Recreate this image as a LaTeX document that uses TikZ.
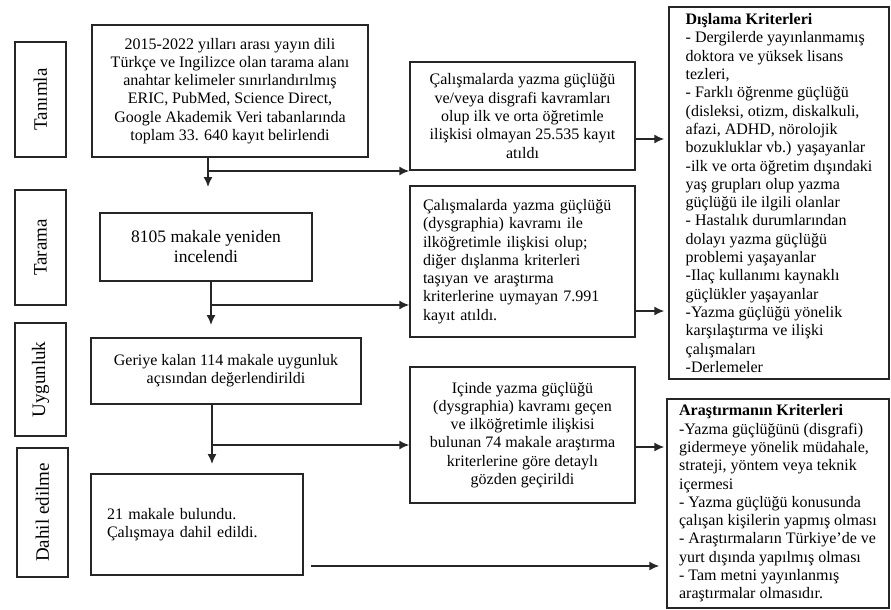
\documentclass[tikz,border=0pt]{standalone}
\usepackage{fontspec}
\setmainfont{Liberation Serif}
\usetikzlibrary{arrows.meta}

\begin{document}
\begin{tikzpicture}[x=1pt,y=-1pt,font=\fontsize{16}{18.3}\selectfont]

  \tikzstyle{box}=[draw=black!85,line width=1.5pt,align=center,inner sep=0pt]
  \tikzstyle{stage}=[box,rotate=90,font=\fontsize{19}{22}\selectfont]
  \tikzstyle{leftbox}=[box,align=left]
  \tikzstyle{arr}=[line width=1.5pt,draw=black!85,-{Latex[length=10pt,width=9pt]}]

  \useasboundingbox (0,0) rectangle (891,610);

  % stages
  \node[stage,minimum width=115pt,minimum height=51pt] (tanimla) at (40.5,99.5) {Tanımla};
  \node[stage,minimum width=115pt,minimum height=51pt] (tarama) at (40.5,247.5) {Tarama};
  \node[stage,minimum width=113pt,minimum height=51pt] (uygun) at (40.5,379.5) {Uygunluk};
  \node[stage,minimum width=129pt,minimum height=51pt] (dahil) at (42.5,512.5) {Dahil edilme};

  % main flow
  \node[box,minimum width=276pt,minimum height=132pt] (b1) at (230,91)
    {2015-2022 yılları arası yayın dili\\ Türkçe ve Ingilizce olan tarama alanı\\
     anahtar kelimeler sınırlandırılmış\\ ERIC, PubMed, Science Direct,\\
     Google Akademik Veri tabanlarında\\ toplam 33. 640 kayıt belirlendi};
  \node[box,minimum width=212pt,minimum height=68pt,font=\fontsize{17.5}{20}\selectfont] (b2) at (206,247)
    {8105 makale yeniden\\ incelendi};
  \node[box,minimum width=270pt,minimum height=66pt] (b3) at (226,371)
    {Geriye kalan 114 makale uygunluk\\ açısından değerlendirildi};
  \node[leftbox,text width=180pt,minimum width=212pt,minimum height=101pt] (b4) at (197,524.5)
    {21 makale bulundu.\\ Çalışmaya dahil edildi.};

  % removed
  \node[box,minimum width=225pt,minimum height=108pt] (m1) at (522.5,116)
    {Çalışmalarda yazma güçlüğü\\ ve/veya disgrafi kavramları\\ olup ilk ve orta öğretimle\\
     ilişkisi olmayan 25.535 kayıt\\ atıldı};
  \node[leftbox,text width=199pt,minimum width=225pt,minimum height=151pt] (m2) at (522.5,261.5)
    {Çalışmalarda yazma güçlüğü\\ (dysgraphia) kavramı ile\\ ilköğretimle ilişkisi olup;\\
     diğer dışlanma kriterleri\\ taşıyan ve araştırma\\ kriterlerine uymayan 7.991\\ kayıt atıldı.};
  \node[box,minimum width=225pt,minimum height=136pt] (m3) at (522.5,435)
    {Içinde yazma güçlüğü\\ (dysgraphia) kavramı geçen\\ ve ilköğretimle ilişkisi\\
     bulunan 74 makale araştırma\\ kriterlerine göre detaylı\\ gözden geçirildi};

  % criteria
  \node[leftbox,minimum width=220pt,minimum height=372pt] (crit1) at (779,193)
    {\textbf{Dışlama Kriterleri}\\ - Dergilerde yayınlanmamış\\ doktora ve yüksek lisans\\ tezleri,\\
     - Farklı öğrenme güçlüğü\\ (disleksi, otizm, diskalkuli,\\ afazi, ADHD, nörolojik\\
     bozukluklar vb.) yaşayanlar\\ -ilk ve orta öğretim dışındaki\\ yaş grupları olup yazma\\
     güçlüğü ile ilgili olanlar\\ - Hastalık durumlarından\\ dolayı yazma güçlüğü\\
     problemi yaşayanlar\\ -Ilaç kullanımı kaynaklı\\ güçlükler yaşayanlar\\
     -Yazma güçlüğü yönelik\\ karşılaştırma ve ilişki\\ çalışmaları\\ -Derlemeler};
  \node[leftbox,minimum width=222pt,minimum height=209pt] (crit2) at (778,503.5)
    {\textbf{Araştırmanın Kriterleri}\\ -Yazma güçlüğünü (disgrafi)\\ gidermeye yönelik müdahale,\\
     strateji, yöntem veya teknik\\ içermesi\\ - Yazma güçlüğü konusunda\\
     çalışan kişilerin yapmış olması\\ - Araştırmaların Türkiye’de ve\\
     yurt dışında yapılmış olması\\ - Tam metni yayınlanmış\\ araştırmalar olmasıdır.};

  \coordinate (t1) at (208,187);
  \coordinate (j1) at (208,171);
  \coordinate (t2) at (211,325);
  \coordinate (j2) at (211,305);
  \coordinate (t3) at (212,464);
  \coordinate (j3) at (212,445);
  \coordinate (s4) at (311,566);

  \draw[arr] (b1.south -| t1) -- (t1);
  \draw[arr] (j1) -- (j1 -| m1.west);
  \draw[arr] (b2.south -| t2) -- (t2);
  \draw[arr] (j2) -- (j2 -| m2.west);
  \draw[arr] (b3.south -| t3) -- (t3);
  \draw[arr] (j3) -- (j3 -| m3.west);
  \draw[arr] (s4) -- ([xshift=-7pt]s4 -| crit2.west);

  \draw[arr] (m1.east |- 0,139) -- ([xshift=-4pt]crit1.west |- 0,139);
  \draw[arr] (m2.east |- 0,311) -- ([xshift=-4pt]crit1.west |- 0,311);
  \draw[arr] (m3.east |- 0,447) -- ([xshift=-2pt]crit2.west |- 0,447);

  %\draw[step=50,gray,very thin] (0,0) grid (891,610);

\end{tikzpicture}
\end{document}
